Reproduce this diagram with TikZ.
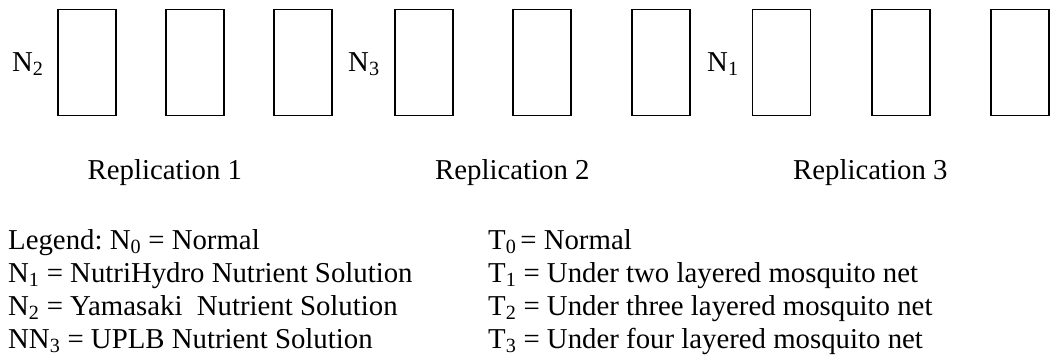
\documentclass[tikz,border=0pt]{standalone}
\usepackage{fontspec}
\setmainfont{Liberation Serif}
\frenchspacing
\begin{document}
\begin{tikzpicture}[x=1pt,y=-1pt,
  plot/.style={draw=black,line width=1.9pt,minimum width=58pt,minimum height=106pt,inner sep=0pt},
  txt/.style={anchor=base west,inner sep=0pt,font=\fontsize{28.8}{33}\selectfont}]
\useasboundingbox (0,0) rectangle (1053,357);
% plots
\node[plot] (p1) at (87.2,62.5) {};
\node[plot] (p2) at (195.3,62.5) {};
\node[plot] (p3) at (303.2,62.5) {};
\node[plot] (p4) at (424,62.5) {};
\node[plot] (p5) at (542.2,62.5) {};
\node[plot] (p6) at (661.2,62.5) {};
\node[plot] (p7) at (781.5,62.5) {};
\node[plot] (p8) at (900.7,62.5) {};
\node[plot] (p9) at (1019.7,62.5) {};
% row labels
\node[txt] (l1) at (12,71) {N\textsubscript{2}};
\node[txt] (l2) at (348,71) {N\textsubscript{3}};
\node[txt] (l3) at (707,71) {N\textsubscript{1}};
% replication labels
\node[txt] (r1) at (87.5,179) {Replication 1};
\node[txt] (r2) at (435,179) {Replication 2};
\node[txt] (r3) at (793,179) {Replication 3};
% legend
\node[txt] (a0) at (8,249) {Legend: N\textsubscript{0} = Normal};
\node[txt] (a1) at (8,282) {N\textsubscript{1} = NutriHydro Nutrient Solution};
\node[txt] (a2) at (8,315) {N\textsubscript{2} = Yamasaki\ \ Nutrient Solution};
\node[txt] (a3) at (8,348) {NN\textsubscript{3} = UPLB Nutrient Solution};
\node[txt] (b0) at (488,249) {T\textsubscript{0}\hspace{4pt}= Normal};
\node[txt] (b1) at (488,282) {T\textsubscript{1} = Under two layered mosquito net};
\node[txt] (b2) at (488,315) {T\textsubscript{2} = Under three layered mosquito net};
\node[txt] (b3) at (488,348) {T\textsubscript{3} = Under four layered mosquito net};
\end{tikzpicture}
\end{document}
